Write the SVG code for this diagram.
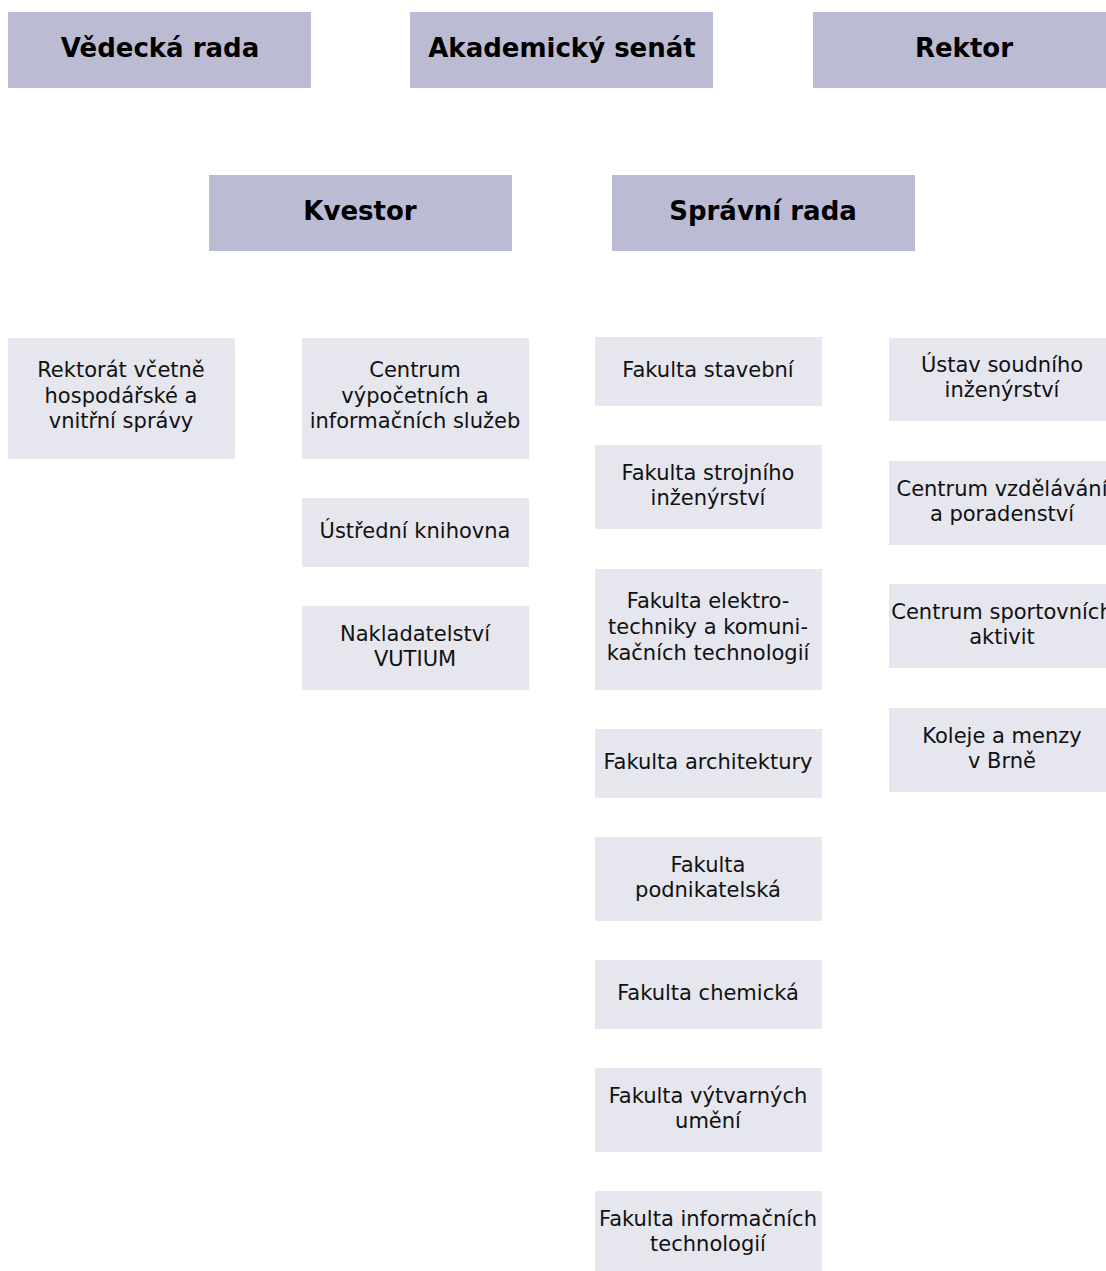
<svg xmlns="http://www.w3.org/2000/svg" width="1106" height="1271" viewBox="0 0 1106 1271">
<style>
.h rect{fill:#bbbcd4}
.b rect{fill:#e6e6ee}
.h text{font-family:"DejaVu Sans","Liberation Sans",sans-serif;font-weight:bold;font-size:26px;fill:#000;text-anchor:middle}
.b text{font-family:"DejaVu Sans","Liberation Sans",sans-serif;font-size:21px;fill:#111;text-anchor:middle}
</style>
<rect width="1106" height="1271" fill="#fff"/>
<g id="vedecka-rada" class="h"><rect x="8" y="12" width="303" height="76"/><text x="160" y="57">Vědecká rada</text></g>
<g id="akademicky-senat" class="h"><rect x="410" y="12" width="303" height="76"/><text x="562" y="57">Akademický senát</text></g>
<g id="rektor" class="h"><rect x="813" y="12" width="303" height="76"/><text x="964" y="57">Rektor</text></g>
<g id="kvestor" class="h"><rect x="209" y="175" width="303" height="76"/><text x="360" y="220">Kvestor</text></g>
<g id="spravni-rada" class="h"><rect x="612" y="175" width="303" height="76"/><text x="763" y="220">Správní rada</text></g>

<g id="rektorat" class="b"><rect x="8" y="338" width="227" height="121"/><text x="121" y="377">Rektorát včetně</text><text x="121" y="403">hospodářské a</text><text x="121" y="428">vnitřní správy</text></g>
<g id="cvis" class="b"><rect x="302" y="338" width="227" height="121"/><text x="415" y="377">Centrum</text><text x="415" y="403">výpočetních a</text><text x="415" y="428">informačních služeb</text></g>
<g id="knihovna" class="b"><rect x="302" y="498" width="227" height="69"/><text x="415" y="538">Ústřední knihovna</text></g>
<g id="vutium" class="b"><rect x="302" y="606" width="227" height="84"/><text x="415" y="641">Nakladatelství</text><text x="415" y="666">VUTIUM</text></g>

<g id="fast" class="b"><rect x="595" y="337" width="227" height="69"/><text x="708" y="377">Fakulta stavební</text></g>
<g id="fsi" class="b"><rect x="595" y="445" width="227" height="84"/><text x="708" y="480">Fakulta strojního</text><text x="708" y="505">inženýrství</text></g>
<g id="feec" class="b"><rect x="595" y="569" width="227" height="121"/><text x="708" y="608">Fakulta elektro-</text><text x="708" y="634">techniky a komuni-</text><text x="708" y="660">kačních technologií</text></g>
<g id="fa" class="b"><rect x="595" y="729" width="227" height="69"/><text x="708" y="769">Fakulta architektury</text></g>
<g id="fp" class="b"><rect x="595" y="837" width="227" height="84"/><text x="708" y="872">Fakulta</text><text x="708" y="897">podnikatelská</text></g>
<g id="fch" class="b"><rect x="595" y="960" width="227" height="69"/><text x="708" y="1000">Fakulta chemická</text></g>
<g id="favu" class="b"><rect x="595" y="1068" width="227" height="84"/><text x="708" y="1103">Fakulta výtvarných</text><text x="708" y="1128">umění</text></g>
<g id="fit" class="b"><rect x="595" y="1191" width="227" height="80"/><text x="708" y="1226">Fakulta informačních</text><text x="708" y="1251">technologií</text></g>

<g id="usi" class="b"><rect x="889" y="338" width="227" height="83"/><text x="1002" y="372">Ústav soudního</text><text x="1002" y="397">inženýrství</text></g>
<g id="cvp" class="b"><rect x="889" y="461" width="227" height="84"/><text x="1002" y="496">Centrum vzdělávání</text><text x="1002" y="521">a poradenství</text></g>
<g id="csa" class="b"><rect x="889" y="584" width="227" height="84"/><text x="1002" y="619">Centrum sportovních</text><text x="1002" y="644">aktivit</text></g>
<g id="kam" class="b"><rect x="889" y="708" width="227" height="84"/><text x="1002" y="743">Koleje a menzy</text><text x="1002" y="768">v Brně</text></g>
<g id="connectors"></g>
</svg>
